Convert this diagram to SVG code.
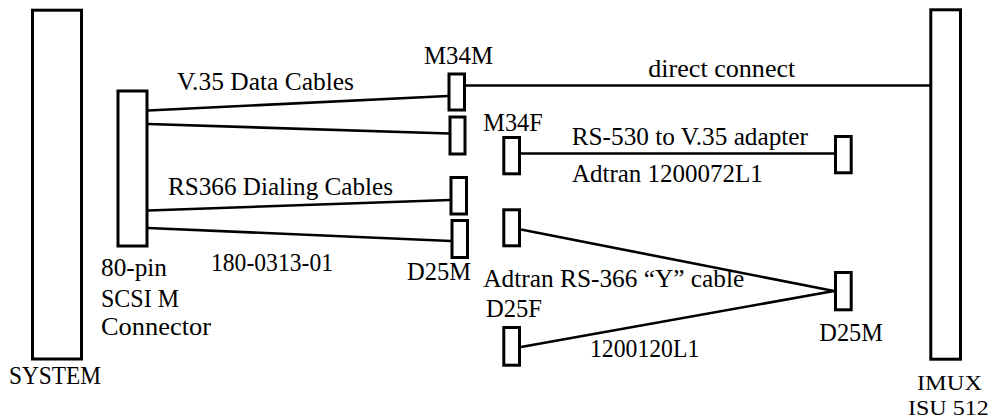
<svg xmlns="http://www.w3.org/2000/svg" width="1002" height="419" viewBox="0 0 1002 419">
<style>
.box{fill:#fff;stroke:#000;stroke-width:3}
.wire{fill:none;stroke:#000;stroke-width:2.6}
text{font-family:"Liberation Serif","Times New Roman",serif;font-size:25px;fill:#000}
.tight{font-size:22px}
</style>
<rect width="1002" height="419" fill="#fff"/>
<g id="connectors">
<line class="wire" x1="148" y1="110.5" x2="448" y2="96"/>
<line class="wire" x1="148" y1="124" x2="449" y2="133.5"/>
<line class="wire" x1="148" y1="210.5" x2="450" y2="200"/>
<line class="wire" x1="148" y1="228" x2="451" y2="241"/>
<line class="wire" x1="466" y1="85.5" x2="930" y2="85.5"/>
<line class="wire" x1="521" y1="153.5" x2="834" y2="153.5"/>
<line class="wire" x1="521" y1="229.5" x2="834" y2="291"/>
<line class="wire" x1="521" y1="347" x2="834" y2="291"/>
</g>
<g id="system"><rect class="box" x="32.5" y="10.2" width="49" height="348.8"/><text x="9" y="384" textLength="92" lengthAdjust="spacingAndGlyphs">SYSTEM</text></g>
<g id="scsi"><rect class="box" x="118" y="91" width="29" height="155"/>
<text x="101" y="276" textLength="66" lengthAdjust="spacingAndGlyphs">80-pin</text>
<text x="101" y="307" textLength="78" lengthAdjust="spacingAndGlyphs">SCSI M</text>
<text x="101" y="334.5" textLength="110" lengthAdjust="spacingAndGlyphs">Connector</text></g>
<g id="m34m"><rect class="box" x="449" y="74" width="15.5" height="36"/><text x="424" y="64" textLength="69" lengthAdjust="spacingAndGlyphs">M34M</text></g>
<g id="data2"><rect class="box" x="450" y="117" width="15" height="37"/></g>
<g id="dial1"><rect class="box" x="451" y="177.5" width="15.5" height="36.5"/></g>
<g id="d25m-left"><rect class="box" x="452" y="220.5" width="15.5" height="37"/><text x="407" y="280" textLength="64" lengthAdjust="spacingAndGlyphs">D25M</text></g>
<g id="m34f"><rect class="box" x="503.8" y="137.5" width="15.7" height="36.3"/><text x="483.3" y="131" textLength="59.4" lengthAdjust="spacingAndGlyphs">M34F</text></g>
<g id="adapter-end"><rect class="box" x="835.5" y="136.5" width="15.7" height="36.3"/></g>
<g id="y-top"><rect class="box" x="503.8" y="209.8" width="15.7" height="36"/></g>
<g id="y-bottom"><rect class="box" x="503.8" y="327.5" width="15.7" height="37.7"/><text x="486" y="317.3" textLength="56" lengthAdjust="spacingAndGlyphs">D25F</text></g>
<g id="d25m-right"><rect class="box" x="835.5" y="272.5" width="15.7" height="37.3"/><text x="819.3" y="341.3" textLength="63.7" lengthAdjust="spacingAndGlyphs">D25M</text></g>
<g id="imux"><rect class="box" x="930.8" y="9.8" width="29.7" height="349.4"/>
<text class="tight" x="917" y="390" textLength="65" lengthAdjust="spacingAndGlyphs">IMUX</text>
<text class="tight" x="908" y="415" textLength="80.7" lengthAdjust="spacingAndGlyphs">ISU 512</text></g>
<g id="labels">
<text x="177" y="90" textLength="177" lengthAdjust="spacingAndGlyphs">V.35 Data Cables</text>
<text x="168" y="195" textLength="225" lengthAdjust="spacingAndGlyphs">RS366 Dialing Cables</text>
<text x="211" y="271" textLength="122" lengthAdjust="spacingAndGlyphs">180-0313-01</text>
<text x="648.3" y="77" textLength="147" lengthAdjust="spacingAndGlyphs">direct connect</text>
<text x="571.7" y="145" textLength="236.3" lengthAdjust="spacingAndGlyphs">RS-530 to V.35 adapter</text>
<text x="572" y="181.7" textLength="190.7" lengthAdjust="spacingAndGlyphs">Adtran 1200072L1</text>
<text x="483.3" y="286.7" textLength="261" lengthAdjust="spacingAndGlyphs">Adtran RS-366 “Y” cable</text>
<text x="590" y="357.3" textLength="109.3" lengthAdjust="spacingAndGlyphs">1200120L1</text>
</g>
</svg>
